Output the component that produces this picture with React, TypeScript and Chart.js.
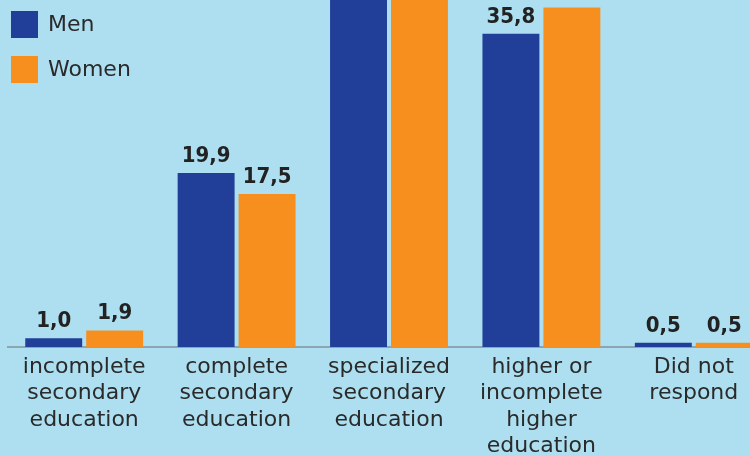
import React, { useEffect, useRef } from "react";
import { Chart, registerables } from "chart.js";

Chart.register(...registerables);

const categories: string[][] = [
  ["incomplete", "secondary", "education"],
  ["complete", "secondary", "education"],
  ["specialized", "secondary", "education"],
  ["higher or", "incomplete", "higher", "education"],
  ["Did not", "respond"],
];
const seriesNames = ["Men", "Women"];
const menValues = [1.0, 19.9, 42.3, 35.8, 0.5];
const womenValues = [1.9, 17.5, 41.6, 38.8, 0.5];
const seriesColors = ["#213f99", "#f78f1f"];

const BG = "#addff0";
const TOP_OFFSET = 60;
const CANVAS_W = 770;
const CANVAS_H = 516;
const TEXT_FONT = "'DejaVu Sans', sans-serif";

const labelPlugin = {
  id: "valueLabels",
  afterDatasetsDraw(chart: any) {
    const ctx = chart.ctx;
    ctx.save();
    ctx.font = "bold 22px 'DejaVu Sans Condensed', 'DejaVu Sans', sans-serif";
    ctx.fillStyle = "#222222";
    ctx.textAlign = "center";
    ctx.textBaseline = "alphabetic";
    chart.data.datasets.forEach((ds: any, di: number) => {
      const meta = chart.getDatasetMeta(di);
      meta.data.forEach((bar: any, i: number) => {
        const v = ds.data[i] as number;
        ctx.fillText(v.toFixed(1).replace(".", ","), bar.x, bar.y - 11);
      });
    });
    ctx.restore();
  },
};

const legendPlugin = {
  id: "customLegend",
  afterDraw(chart: any) {
    const ctx = chart.ctx;
    ctx.save();
    ctx.font = "22px " + TEXT_FONT;
    ctx.textAlign = "left";
    ctx.textBaseline = "middle";
    chart.data.datasets.forEach((ds: any, di: number) => {
      const y = 11 + di * 45 + TOP_OFFSET;
      ctx.fillStyle = ds.backgroundColor;
      ctx.fillRect(11, y, 27, 27);
      ctx.fillStyle = "#2a2a2a";
      ctx.fillText(ds.label, 48, y + 14);
    });
    ctx.restore();
  },
};

export default function App() {
  const ref = useRef<HTMLCanvasElement>(null);
  useEffect(() => {
    document.body.style.margin = "0";
    const chart = new Chart(ref.current!, {
      type: "bar",
      data: {
        labels: categories as any,
        datasets: [
          {
            label: seriesNames[0],
            data: menValues,
            backgroundColor: seriesColors[0],
            categoryPercentage: 0.8,
            barPercentage: 0.934,
          },
          {
            label: seriesNames[1],
            data: womenValues,
            backgroundColor: seriesColors[1],
            categoryPercentage: 0.8,
            barPercentage: 0.934,
          },
        ],
      },
      options: {
        animation: false,
        responsive: false,
        maintainAspectRatio: false,
        layout: { padding: { left: 8, right: 0, top: 13.25, bottom: 0 } },
        plugins: {
          legend: { display: false },
          tooltip: { enabled: false },
        },
        scales: {
          x: {
            grid: { display: false, drawTicks: false },
            border: { display: true, color: "#8ba6b2", width: 2 },
            ticks: {
              color: "#2a2a2a",
              font: { family: TEXT_FONT, size: 22, lineHeight: 1.2 },
              padding: 7,
              maxRotation: 0,
              autoSkip: false,
            },
            afterFit: (scale: any) => {
              scale.height = 109;
            },
          },
          y: {
            display: false,
            min: 0,
            max: 45,
          },
        },
      },
      plugins: [labelPlugin, legendPlugin],
    });
    return () => chart.destroy();
  }, []);
  return (
    <div
      style={{
        position: "fixed",
        left: 0,
        top: 0,
        width: 750,
        height: 456,
        overflow: "hidden",
        background: BG,
      }}
    >
      <canvas
        ref={ref}
        width={CANVAS_W}
        height={CANVAS_H}
        style={{ position: "absolute", left: 0, top: -TOP_OFFSET, width: CANVAS_W, height: CANVAS_H }}
      />
    </div>
  );
}
